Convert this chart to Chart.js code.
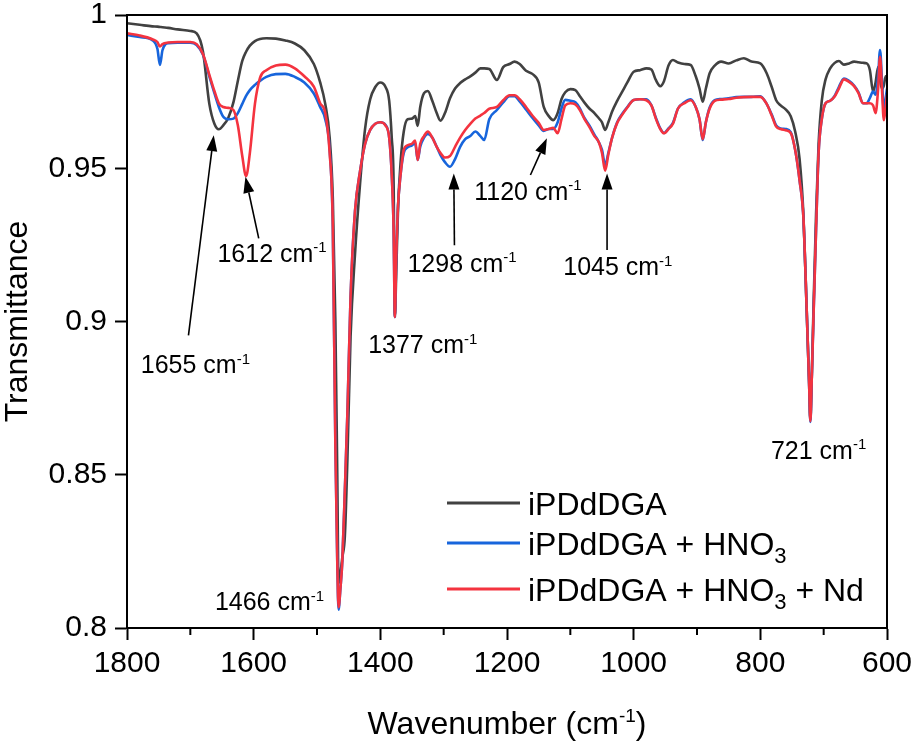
<!DOCTYPE html>
<html>
<head>
<meta charset="utf-8">
<script src="https://cdn.jsdelivr.net/npm/chart.js@4.4.1/dist/chart.umd.min.js"></script>
<style>
  html, body { margin: 0; padding: 0; background: #fff; }
  #wrap { width: 915px; height: 745px; }
</style>
</head>
<body>
<div id="wrap"><canvas id="chart" width="915" height="745"></canvas></div>
<script>
// wavenumber grid (cm-1)
const wavenumbers = [1800,1780,1760,1752,1748,1744,1735,1720,1700,1690,1680,1670,1662,1655,1648,1640,1632,1625,1618,1612,1606,1598,1590,1580,1565,1550,1535,1520,1505,1495,1487,1480,1475,1471,1468,1466,1463,1460,1456,1452,1447,1440,1432,1424,1416,1408,1400,1392,1386,1382,1379,1377,1375,1372,1368,1363,1357,1350,1345,1341,1337,1331,1325,1318,1311,1305,1298,1290,1282,1274,1266,1258,1250,1242,1236,1228,1216,1206,1196,1188,1180,1170,1160,1150,1142,1134,1127,1120,1114,1108,1100,1092,1085,1078,1070,1062,1055,1050,1045,1040,1034,1026,1018,1010,1000,990,980,972,965,958,952,945,938,930,920,910,902,896,891,886,880,872,862,850,838,826,814,800,790,782,775,768,760,752,745,738,732,727,723,721,719,716,712,708,703,697,690,683,676,668,660,652,645,638,632,627,622,618,614,611,608,605,602,600];

const tLigand = [.9973,.9968,.9963,.9962,.9961,.9960,.9958,.9953,.9948,.9940,.9880,.9710,.9645,.9627,.9640,.9665,.9715,.9785,.9850,.9880,.9900,.9915,.9922,.9924,.9923,.9917,.9907,.9885,.9840,.9780,.9710,.9600,.9400,.9000,.8500,.8146,.8180,.8230,.8300,.8550,.8950,.9220,.9450,.9630,.9725,.9765,.9780,.9766,.9720,.9600,.9450,.9015,.9150,.9370,.9520,.9620,.9660,.9662,.9670,.9638,.9700,.9745,.9752,.9720,.9680,.9655,.9680,.9728,.9760,.9778,.9790,.9800,.9812,.9826,.9826,.9824,.9788,.9830,.9840,.9848,.9840,.9818,.9808,.9780,.9700,.9670,.9657,.9680,.9725,.9748,.9758,.9755,.9735,.9715,.9695,.9680,.9663,.9650,.9625,.9650,.9685,.9720,.9750,.9780,.9815,.9820,.9826,.9822,.9788,.9768,.9785,.9835,.9853,.9845,.9840,.9837,.9800,.9760,.9717,.9760,.9810,.9835,.9848,.9842,.9852,.9859,.9848,.9842,.9810,.9765,.9722,.9705,.9692,.9670,.9620,.9530,.9350,.9050,.8800,.8680,.8800,.9050,.9350,.9580,.9720,.9790,.9825,.9843,.9850,.9838,.9842,.9848,.9846,.9844,.9842,.9820,.9750,.9780,.9830,.9790,.9760,.9770,.9800,.9800];

const tHNO3 = [.9935,.9928,.9918,.9890,.9837,.9885,.9908,.9910,.9910,.9902,.9870,.9800,.9745,.9700,.9668,.9660,.9662,.9680,.9710,.9736,.9755,.9772,.9785,.9798,.9807,.9808,.9798,.9780,.9744,.9700,.9660,.9560,.9300,.8600,.8220,.8060,.8130,.8220,.8450,.8700,.9080,.9360,.9490,.9580,.9625,.9645,.9650,.9642,.9600,.9480,.9300,.9015,.9200,.9380,.9480,.9550,.9568,.9575,.9582,.9527,.9570,.9600,.9612,.9600,.9570,.9543,.9520,.9505,.9530,.9570,.9595,.9605,.9620,.9605,.9592,.9660,.9690,.9715,.9735,.9735,.9718,.9692,.9665,.9640,.9622,.9628,.9628,.9650,.9695,.9723,.9720,.9715,.9695,.9665,.9640,.9610,.9585,.9560,.9510,.9550,.9600,.9650,.9678,.9700,.9723,.9725,.9725,.9705,.9665,.9630,.9615,.9630,.9648,.9695,.9715,.9725,.9700,.9660,.9592,.9650,.9698,.9722,.9726,.9728,.9732,.9733,.9733,.9735,.9710,.9675,.9640,.9630,.9628,.9618,.9560,.9460,.9340,.9050,.8800,.8672,.8800,.9020,.9300,.9550,.9660,.9712,.9720,.9735,.9765,.9793,.9785,.9770,.9748,.9712,.9712,.9730,.9750,.9740,.9800,.9886,.9790,.9690,.9730,.9760];

const tHNO3Nd = [.9940,.9933,.9921,.9912,.9897,.9905,.9910,.9912,.9912,.9905,.9872,.9805,.9752,.9712,.9700,.9697,.9690,.9640,.9540,.9474,.9550,.9710,.9795,.9820,.9835,.9838,.9826,.9800,.9766,.9712,.9680,.9550,.9310,.8600,.8220,.8068,.8130,.8220,.8450,.8700,.9080,.9360,.9490,.9580,.9625,.9645,.9650,.9640,.9600,.9480,.9300,.9015,.9200,.9380,.9480,.9560,.9575,.9580,.9590,.9527,.9580,.9605,.9620,.9600,.9570,.9550,.9535,.9540,.9570,.9600,.9625,.9645,.9662,.9672,.9680,.9694,.9700,.9722,.9738,.9738,.9725,.9700,.9672,.9648,.9625,.9628,.9632,.9614,.9660,.9705,.9712,.9708,.9690,.9662,.9635,.9605,.9585,.9550,.9492,.9545,.9600,.9648,.9675,.9698,.9723,.9725,.9722,.9705,.9662,.9628,.9614,.9628,.9645,.9695,.9712,.9722,.9700,.9660,.9595,.9650,.9695,.9720,.9724,.9726,.9730,.9732,.9733,.9733,.9710,.9672,.9636,.9628,.9624,.9615,.9560,.9460,.9340,.9050,.8800,.8675,.8800,.9020,.9300,.9550,.9660,.9712,.9720,.9733,.9760,.9790,.9782,.9768,.9745,.9712,.9712,.9712,.9705,.9680,.9760,.9864,.9760,.9657,.9700,.9740];

// _{..} subscript, ^{..} superscript
const seriesNames = ['iPDdDGA', 'iPDdDGA + HNO_{3}', 'iPDdDGA + HNO_{3} + Nd'];
const seriesColors = ['#414141', '#1765dc', '#f4333f'];

const xTicks = [1800, 1600, 1400, 1200, 1000, 800, 600];
const xMinorTicks = [1700, 1500, 1300, 1100, 900, 700];
const yTicks = [0.8, 0.85, 0.9, 0.95, 1];

// peak labels: text centre and arrows in data units (wavenumber, transmittance)
const peakNames = [1655, 1612, 1466, 1377, 1298, 1120, 1045, 721];
const labelAt = [[1692,0.8861],[1571,0.9225],[1575,0.8087],[1333,0.8926],[1271,0.9192],[1167,0.9426],[1025,0.9180],[708,0.8582]];
const arrowFrom = [[1703,0.8955],[1592,0.9271],null,null,[1283,0.9249],[1163,0.9478],[1042,0.9233],null];
const arrowTo = [[1663,0.9608],[1613,0.9472],null,null,[1284,0.9483],[1137,0.9598],[1042,0.9483],null];

const FONT = '"Liberation Sans", Arial, Helvetica, sans-serif';

function parseRich(str){
    const out = [];
    str.split(/(\^\{[^}]*\}|_\{[^}]*\})/).forEach(s => {
        if (!s) return;
        if (s.startsWith('^{')) out.push({ t: s.slice(2, -1), k: 'sup' });
        else if (s.startsWith('_{')) out.push({ t: s.slice(2, -1), k: 'sub' });
        else out.push({ t: s, k: 'n' });
    });
    return out;
}

// draws text with sub/superscripts; y is the baseline
function drawRich(ctx, str, x, y, size, align){
    const parts = parseRich(str);
    const fontOf = k => (k === 'n' ? size : Math.round(size * (k === 'sub' ? 0.68 : 0.6))) + 'px ' + FONT;
    let w = 0;
    parts.forEach(p => { ctx.font = fontOf(p.k); p.w = ctx.measureText(p.t).width; w += p.w; });
    let cx = align === 'center' ? x - w / 2 : x;
    ctx.textAlign = 'left';
    ctx.textBaseline = 'alphabetic';
    parts.forEach(p => {
        ctx.font = fontOf(p.k);
        const dy = p.k === 'sup' ? -size * 0.38 : (p.k === 'sub' ? size * 0.26 : 0);
        ctx.fillText(p.t, cx, y + dy);
        cx += p.w;
    });
}

function drawArrow(ctx, x1, y1, x2, y2){
    const ang = Math.atan2(y2 - y1, x2 - x1);
    const len = 16, half = 5.5;
    const bx = x2 - len * Math.cos(ang), by = y2 - len * Math.sin(ang);
    ctx.beginPath();
    ctx.moveTo(x1, y1);
    ctx.lineTo(bx, by);
    ctx.lineWidth = 1.6;
    ctx.strokeStyle = '#000';
    ctx.stroke();
    ctx.beginPath();
    ctx.moveTo(x2, y2);
    ctx.lineTo(bx + half * Math.sin(ang), by - half * Math.cos(ang));
    ctx.lineTo(bx - half * Math.sin(ang), by + half * Math.cos(ang));
    ctx.closePath();
    ctx.fillStyle = '#000';
    ctx.fill();
}

const decorations = {
    id: 'decorations',
    afterDraw(chart){
        const { ctx, chartArea: a, scales: { x, y } } = chart;
        ctx.save();
        // frame
        ctx.strokeStyle = '#000';
        ctx.lineWidth = 2;
        ctx.strokeRect(a.left, a.top, a.right - a.left, a.bottom - a.top);
        // minor ticks on x
        xMinorTicks.forEach(v => {
            const px = x.getPixelForValue(v);
            ctx.beginPath();
            ctx.moveTo(px, a.bottom);
            ctx.lineTo(px, a.bottom + 7);
            ctx.stroke();
        });
        ctx.fillStyle = '#000';
        // peak labels and arrows
        peakNames.forEach((n, i) => {
            const lx = x.getPixelForValue(labelAt[i][0]);
            const ly = y.getPixelForValue(labelAt[i][1]);
            drawRich(ctx, n + ' cm^{-1}', lx, ly + 9, 25, 'center');
            if (arrowFrom[i]) {
                drawArrow(ctx,
                    x.getPixelForValue(arrowFrom[i][0]), y.getPixelForValue(arrowFrom[i][1]),
                    x.getPixelForValue(arrowTo[i][0]), y.getPixelForValue(arrowTo[i][1]));
            }
        });
        // legend
        const rows = [503, 543, 589];
        seriesNames.forEach((name, i) => {
            ctx.beginPath();
            ctx.moveTo(447, rows[i]);
            ctx.lineTo(520, rows[i]);
            ctx.lineWidth = 3;
            ctx.strokeStyle = seriesColors[i];
            ctx.stroke();
            ctx.fillStyle = '#000';
            drawRich(ctx, name, 528, rows[i] + 11.5, 32, 'left');
        });
        // axis titles
        drawRich(ctx, 'Wavenumber (cm^{-1})', (a.left + a.right) / 2, 734, 32, 'center');
        ctx.save();
        ctx.translate(27, (a.top + a.bottom) / 2);
        ctx.rotate(-Math.PI / 2);
        drawRich(ctx, 'Transmittance', 0, 0, 32, 'center');
        ctx.restore();
        ctx.restore();
    }
};

const noPad = s => { s.paddingTop = 0; s.paddingBottom = 0; s.paddingLeft = 0; s.paddingRight = 0; };

const seriesValues = [tLigand, tHNO3, tHNO3Nd];
const datasets = seriesValues.map((vals, i) => ({
    label: seriesNames[i],
    data: wavenumbers.map((w, j) => ({ x: w, y: vals[j] })),
    borderColor: seriesColors[i],
    backgroundColor: 'transparent',
    borderWidth: 2.6,
    pointRadius: 0,
    cubicInterpolationMode: 'monotone',
    order: 3 - i
}));

new Chart(document.getElementById('chart'), {
    type: 'line',
    data: { datasets },
    options: {
        responsive: false,
        animation: false,
        layout: { padding: { top: 15, right: 28, left: 0, bottom: 0 } },
        plugins: { legend: { display: false }, tooltip: { enabled: false } },
        scales: {
            x: {
                type: 'linear', reverse: true, min: 600, max: 1800,
                afterBuildTicks: s => { s.ticks = xTicks.map(v => ({ value: v })); },
                afterFit: s => { s.height = 117; noPad(s); },
                ticks: { callback: v => String(v), color: '#000', font: { family: FONT, size: 30 }, padding: 6, maxRotation: 0, autoSkip: false },
                grid: { drawOnChartArea: false, drawTicks: true, tickLength: 12, tickColor: '#000', tickWidth: 2 },
                border: { display: true, color: '#000', width: 2 }
            },
            y: {
                min: 0.8, max: 1,
                afterBuildTicks: s => { s.ticks = yTicks.map(v => ({ value: v })); },
                afterFit: s => { s.width = 127; noPad(s); },
                ticks: { callback: v => String(v), color: '#000', font: { family: FONT, size: 30 }, padding: 8 },
                grid: { drawOnChartArea: false, drawTicks: true, tickLength: 12, tickColor: '#000', tickWidth: 2 },
                border: { display: true, color: '#000', width: 2 }
            }
        }
    },
    plugins: [decorations]
});
</script>
</body>
</html>
